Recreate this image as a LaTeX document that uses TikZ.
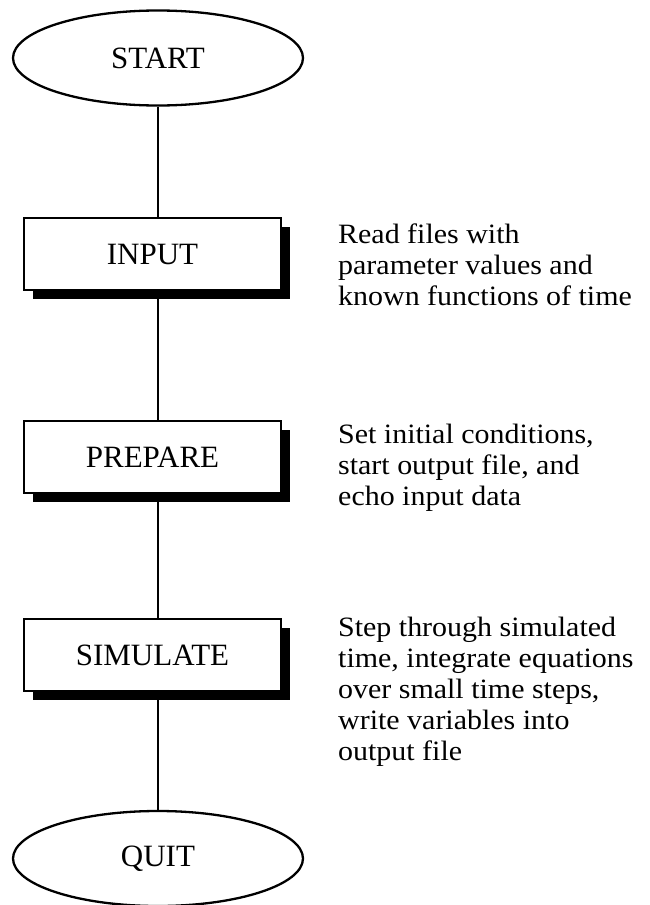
\documentclass[tikz,border=0pt]{standalone}
\usepackage{fontspec}
\setmainfont{Liberation Serif}
\newfontfamily\sidefont[FakeStretch=1.07]{Liberation Serif}
\usetikzlibrary{shapes.geometric,shadows}
\begin{document}
\begin{tikzpicture}[x=1pt,y=-1pt,
  terminal/.style={ellipse,draw,line width=2.3pt,minimum width=290pt,minimum height=95pt,inner sep=0pt,
    font=\fontsize{31}{36}\selectfont},
  stepbox/.style={rectangle,draw,line width=2.2pt,fill=white,minimum width=257pt,minimum height=72pt,inner sep=0pt,
    font=\fontsize{31}{36}\selectfont,
    drop shadow={shadow xshift=9pt,shadow yshift=-9pt,opacity=1,fill=black}},
  note/.style={anchor=base west,inner sep=0pt,font=\sidefont\fontsize{28}{31}\selectfont},
  link/.style={line width=2.2pt}]
\useasboundingbox (0,0) rectangle (649,905);
\node[terminal] (start) at (158,58) {START};
\node[stepbox] (inp) at (152.5,254) {INPUT};
\node[stepbox] (prep) at (152.5,457) {PREPARE};
\node[stepbox] (sim) at (152.5,655) {SIMULATE};
\node[terminal] (quit) at (158,858.5) {QUIT};
\draw[link] (start.south) -- (start.south |- inp.north);
\draw[link] (inp.south -| start.south) -- (prep.north -| start.south);
\draw[link] (prep.south -| start.south) -- (sim.north -| start.south);
\draw[link] (sim.south -| start.south) -- (quit.north);
\node[note] (tinp) at (338,243) {\begin{tabular}[t]{@{}l@{}}Read files with\\parameter values and\\known functions of time\end{tabular}};
\node[note] (tprep) at (338,443) {\begin{tabular}[t]{@{}l@{}}Set initial conditions,\\start output file, and\\echo input data\end{tabular}};
\node[note] (tsim) at (338,636) {\begin{tabular}[t]{@{}l@{}}Step through simulated\\time, integrate equations\\over small time steps,\\write variables into\\output file\end{tabular}};
\end{tikzpicture}
\end{document}
